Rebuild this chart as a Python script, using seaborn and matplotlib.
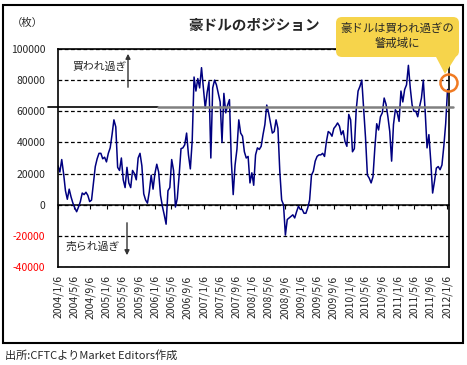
import pandas as pd
import seaborn as sns
import matplotlib.pyplot as plt
import matplotlib.dates as mdates
from matplotlib.patches import Rectangle, FancyBboxPatch, Polygon, Circle

# Australian dollar non-commercial net position (contracts), every 2 weeks from 2004/1/6
start_date = '2004-01-06'
positions = [
    25000, 21000, 29000, 20000, 9000, 3500, 10000, 5000, 1000, -2000,
    -4500, -1500, 2000, 7500, 6500, 8000, 6000, 2000, 3000, 14000,
    24500, 29500, 33000, 33000, 29500, 30500, 27500, 33000, 36500, 45000,
    54500, 50000, 24000, 22000, 30000, 16000, 11000, 24000, 14000, 11000,
    22000, 20000, 16000,
    30000, 33000, 25000, 7000, 3000, 1000, 8500, 19000, 10000, 20000,
    26000, 21000, 6000, -1000, -6500, -12500, 9000, 11000, 29000, 22000,
    -1500, 4000, 19000, 36000, 36500, 38500, 46000, 32000, 23000, 41000,
    82000, 73000, 81000, 75000, 88000, 75000, 62000, 72000, 79000, 30000,
    75000, 80000, 77000,
    71500, 66000, 40000, 71500, 59000, 64000, 67500, 28000, 6500, 25500,
    35500, 54500, 46000, 44000, 34000, 30000, 31000, 14000, 20500, 12500,
    32000, 36500, 35500, 37500, 45000, 51500, 64000, 59000, 52500, 46000,
    47000, 54500, 49000, 21500, 3000, 0, -19500, -9500, -8500, -7500,
    -6500, -8500, -4500,
    -1000, -3000, -3000, -5500, -5500, -2000, 3000, 19000, 21500, 28000,
    31000, 32000, 32000, 33000, 31000, 40500, 47000, 46000, 44000, 49000,
    50500, 52500, 50500, 45000, 47500, 40500, 37500, 58000, 54500, 34000,
    36000, 61000, 73000, 76000, 80000, 62000, 43000, 19000, 17000, 14000,
    18000, 36500,
    52000, 48000, 56500, 59000, 68500, 64500, 56500, 47000, 28000, 51500,
    61000, 59000, 53500, 73000, 66000, 74000, 77000, 89500, 75000, 64000,
    60000, 60000, 56500, 63000, 68500, 80000, 60000, 36500, 45000, 28000,
    7500, 15000, 23500, 24500, 22500, 25500, 37500, 52000, 74000,
]
y_ticks = [-40000, -20000, 0, 20000, 40000, 60000, 80000, 100000]
alert_level = 63000

dates = pd.date_range(start_date, periods=len(positions), freq='14D')
tick_dates = pd.date_range(start_date, '2012-01-06', freq=pd.DateOffset(months=4))
tick_labels = [f'{d.year}/{d.month}/{d.day}' for d in tick_dates]

sns.set_style('white')
plt.rcParams['font.family'] = ['Noto Sans CJK JP', 'DejaVu Sans']

W, H = 467, 365
fig = plt.figure(figsize=(W / 100, H / 100), dpi=100)
ax = fig.add_axes([58 / W, 1 - 267 / H, 391 / W, 218 / H])

sns.lineplot(x=dates, y=positions, ax=ax, color='#000080', linewidth=1.1, zorder=2)

ax.set_xlim(pd.Timestamp(start_date), pd.Timestamp('2012-01-21'))
ax.set_ylim(y_ticks[0], y_ticks[-1])
ax.set_yticks(y_ticks)
ax.set_yticklabels([str(v) for v in y_ticks], fontsize=7.5)
for lbl, v in zip(ax.get_yticklabels(), y_ticks):
    if v < 0:
        lbl.set_color('red')
ax.set_xticks(tick_dates)
ax.set_xticklabels(tick_labels, rotation=90, fontsize=7.5)
ax.tick_params(axis='both', length=0)
ax.tick_params(axis='y', pad=9)
ax.tick_params(axis='x', pad=6)
ax.set_xlabel('')
ax.set_ylabel('')
ax.grid(axis='y', color='black', linestyle=(0, (3, 2)), linewidth=0.9)
ax.grid(axis='x', visible=False)
for sp in ax.spines.values():
    sp.set_color('black')
    sp.set_linewidth(1.2)

# zero line with tick marks
zero_pos = (0 - y_ticks[0]) / (y_ticks[-1] - y_ticks[0])
sec = ax.secondary_xaxis(zero_pos)
sec.set_xticks(mdates.date2num(tick_dates))
sec.tick_params(direction='out', length=3, width=0.8, color='black',
                labelbottom=False, labeltop=False)
for sp in sec.spines.values():
    sp.set_color('black')
    sp.set_linewidth(1.1)

# alert level line
x0 = -10 / 391
x1 = 100 / 391
ax.axhline(alert_level, xmin=x0, xmax=x1, color='black', lw=1.2, clip_on=False, zorder=3)
ax.axhline(alert_level, xmin=x1, xmax=1 + 4 / 391, color='#808080', lw=1.8, clip_on=False, zorder=3)

# overlay in pixel coordinates for annotations
ov = fig.add_axes([0, 0, 1, 1], zorder=5)
ov.set_xlim(0, W)
ov.set_ylim(H, 0)
ov.axis('off')

ov.add_patch(Rectangle((3, 5), 460, 338, fill=False, ec='black', lw=1.5))
ov.text(254, 25, '豪ドルのポジション', ha='center', va='center', fontsize=10.5, fontweight='bold')
ov.text(27, 23, '（枚）', ha='center', va='center', fontsize=7.5)

ov.add_patch(FancyBboxPatch((336, 17), 123, 40, boxstyle='round,pad=0,rounding_size=6',
                            fc='#F6D44B', ec='none'))
ov.add_patch(Polygon([(435, 55), (457, 55), (445, 74)], closed=True, fc='#F6D44B', ec='none'))
ov.text(397, 36, '豪ドルは買われ過ぎの\n警戒域に', ha='center', va='center',
        fontsize=8.2, linespacing=1.4)
ov.add_patch(Circle((449, 83), 8.5, fill=False, ec='#F07A22', lw=1.8))

ov.text(100, 67, '買われ過ぎ', ha='center', va='center', fontsize=7.8)
ov.annotate('', xy=(128, 51), xytext=(128, 90),
            arrowprops=dict(arrowstyle='-|>', color='#333333', lw=1, mutation_scale=7))
ov.text(93, 247, '売られ過ぎ', ha='center', va='center', fontsize=7.8)
ov.annotate('', xy=(127, 258), xytext=(127, 220),
            arrowprops=dict(arrowstyle='-|>', color='#333333', lw=1, mutation_scale=7))

ov.text(5, 355, '出所:CFTCよりMarket Editors作成', ha='left', va='center', fontsize=8)

fig.savefig('out.png', dpi=100)
